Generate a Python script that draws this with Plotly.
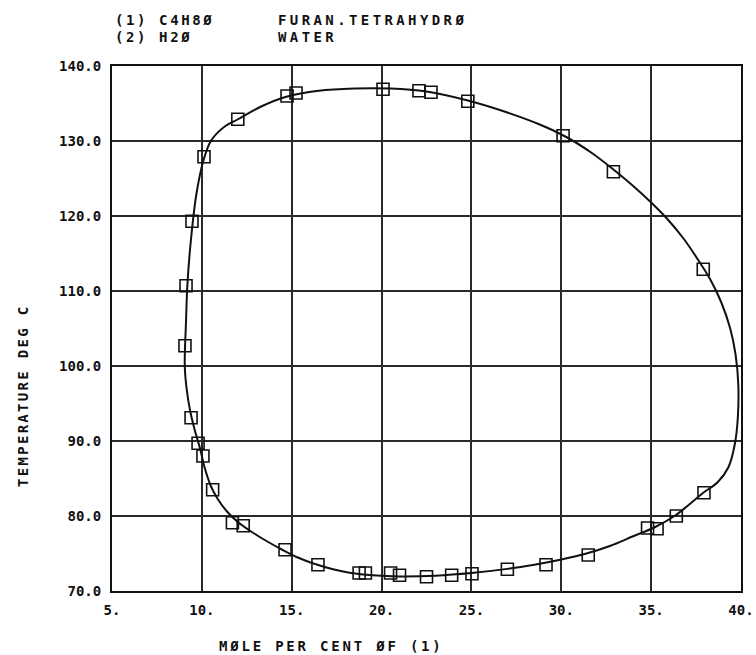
import plotly.graph_objects as go

# Measured liquid-liquid points: mole per cent of (1) vs temperature (deg C)
obs_x = [9.45, 10.12, 12.0, 14.74, 15.24, 20.08, 22.08, 22.75, 24.8, 30.1, 32.9,
         37.9, 37.94, 36.4, 35.33, 34.8, 31.5, 29.15, 27.0, 25.03, 23.9, 22.5,
         21.0, 20.5, 19.1, 18.75, 16.46, 14.63, 12.3, 11.7, 10.6, 10.06, 9.79,
         9.4, 9.06, 9.12]
obs_t = [119.3, 127.9, 132.9, 136.0, 136.4, 136.9, 136.7, 136.5, 135.3, 130.7, 125.9,
         112.9, 83.1, 80.0, 78.3, 78.4, 74.8, 73.5, 72.9, 72.3, 72.1, 71.9,
         72.1, 72.4, 72.4, 72.4, 73.5, 75.5, 78.7, 79.1, 83.5, 88.0, 89.7,
         93.1, 102.7, 110.7]

# Smoothed coexistence curve (closed loop, clockwise from the left side)
curve_x = [9.05, 9.12, 9.2, 9.4, 9.7, 10.1, 10.5, 11.2, 12.0, 13.3, 14.7, 16.5,
           18.5, 20.5, 22.5, 24.8, 27.0, 28.8, 30.3, 31.7, 32.9, 34.0, 35.0,
           35.9, 36.8, 37.6, 38.3, 38.9, 39.4, 39.7, 39.85, 39.82, 39.65, 39.3,
           38.7, 37.9, 37.1, 36.3, 35.2, 34.0, 32.7, 31.4, 30.0, 28.5, 27.0,
           25.0, 23.0, 21.0, 19.5, 18.3, 17.3, 16.3, 15.3, 14.4, 13.5, 12.7,
           12.0, 11.4, 10.9, 10.5, 10.15, 9.9, 9.6, 9.35, 9.15, 9.05]
curve_t = [100.0, 106.0, 111.0, 117.0, 123.0, 127.5, 130.0, 131.8, 132.9, 134.6,
           135.9, 136.7, 137.0, 137.0, 136.6, 135.4, 133.8, 132.2, 130.5, 128.4,
           126.2, 124.0, 121.8, 119.6, 117.0, 114.2, 111.5, 108.5, 105.0, 101.5,
           97.5, 93.0, 89.5, 86.5, 84.5, 83.1, 81.5, 80.0, 78.5, 77.3, 76.0,
           75.0, 74.2, 73.5, 72.95, 72.4, 72.05, 71.95, 72.1, 72.4, 72.9, 73.6,
           74.5, 75.6, 76.8, 78.0, 79.2, 80.6, 82.2, 84.0, 86.5, 89.0, 91.5,
           94.0, 97.0, 100.0]

x_ticks = [5, 10, 15, 20, 25, 30, 35, 40]
x_tick_text = ["5.", "10.", "15.", "20.", "25.", "30.", "35.", "40."]
y_ticks = [70, 80, 90, 100, 110, 120, 130, 140]
y_tick_text = ["70.0", "80.0", "90.0", "100.0", "110.0", "120.0", "130.0", "140.0"]

header_left = ["(1) C4H8Ø", "(2) H2Ø"]
header_right = ["FURAN.TETRAHYDRØ", "WATER"]
x_title = "MØLE PER CENT ØF (1)"
y_title = "TEMPERATURE DEG C"

FONT = "DejaVu Sans Mono"
INK = "#111111"


def spaced(s, px):
    return f'<span style="letter-spacing:{px}px">{s}</span>'


fig = go.Figure()
fig.add_trace(go.Scatter(
    x=curve_x, y=curve_t, mode="lines",
    line=dict(color=INK, width=2, shape="spline", smoothing=1.0),
    hoverinfo="skip", showlegend=False,
))
fig.add_trace(go.Scatter(
    x=obs_x, y=obs_t, mode="markers",
    marker=dict(symbol="square-open", size=12, color=INK, line=dict(width=1.6, color=INK)),
    showlegend=False,
))

axis_common = dict(
    showgrid=True, gridcolor="#2a2a2a", gridwidth=1.6,
    showline=True, linecolor=INK, linewidth=2, mirror=True,
    zeroline=False, ticks="", automargin=False,
    tickfont=dict(family=FONT, size=14, color=INK, weight="bold"),
)
fig.update_xaxes(range=[5, 40], tickvals=x_ticks, ticktext=x_tick_text,
                 ticklabelstandoff=5, **axis_common)
fig.update_yaxes(range=[70, 140], tickvals=y_ticks, ticktext=y_tick_text,
                 ticklabelstandoff=6, **axis_common)

# plot area in pixels: left 112, right 741, top 66, bottom 591
L, R, T, B = 112, 741, 66, 591
W, H = 756, 655


def px(xp):
    return (xp - L) / (R - L)


def py(yp):
    return (B - yp) / (B - T)


label_font = dict(family=FONT, size=14, color=INK, weight="bold")
ann = []
for i, (a, b) in enumerate(zip(header_left, header_right)):
    yy = 20 + 17 * i
    ann.append(dict(text=spaced(a, 2.6), x=px(113), y=py(yy), xref="paper", yref="paper",
                    xanchor="left", yanchor="middle", showarrow=False, font=label_font))
    ann.append(dict(text=spaced(b, 3.4), x=px(276), y=py(yy), xref="paper", yref="paper",
                    xanchor="left", yanchor="middle", showarrow=False, font=label_font))
ann.append(dict(text=spaced(x_title, 2.8), x=px(217), y=py(646), xref="paper", yref="paper",
                xanchor="left", yanchor="middle", showarrow=False, font=label_font))
ann.append(dict(text=spaced(y_title, 2.3), x=px(23), y=py(396), xref="paper", yref="paper",
                xanchor="center", yanchor="middle", showarrow=False, textangle=-90,
                font=label_font))

fig.update_layout(
    width=W, height=H,
    margin=dict(l=L, r=W - R, t=T, b=H - B),
    paper_bgcolor="white", plot_bgcolor="white",
    annotations=ann,
    font=dict(family=FONT, color=INK),
)

fig.write_html("out.html")
